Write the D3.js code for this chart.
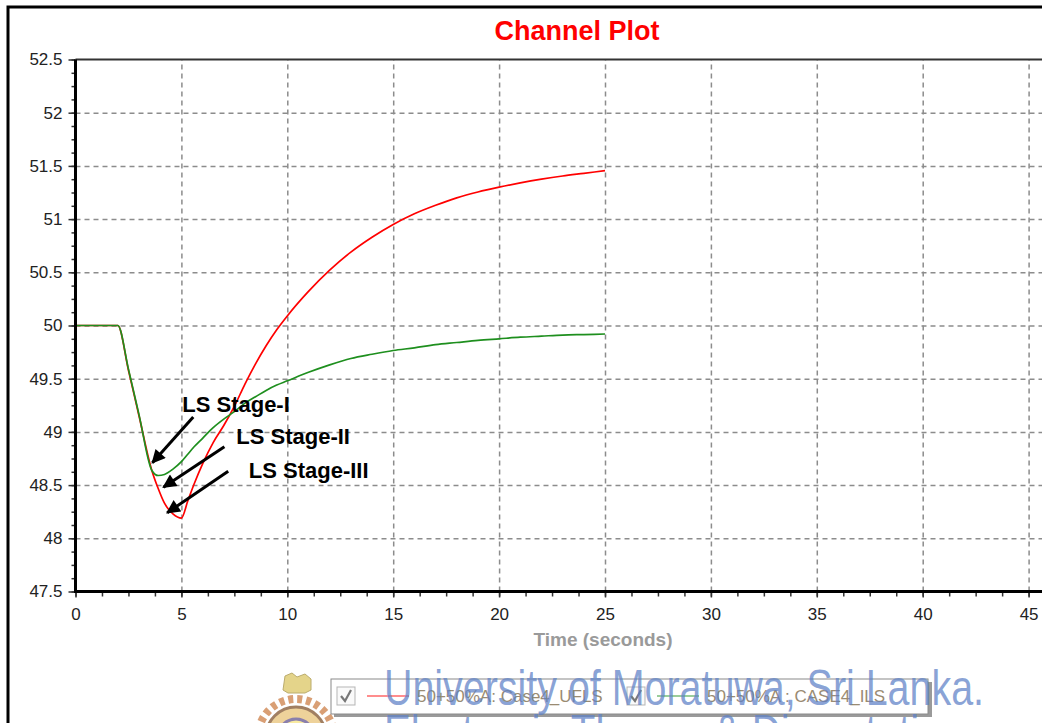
<!DOCTYPE html>
<html lang="en">
<head>
    <meta charset="UTF-8">
    <title>Channel Plot</title>
    <script src="https://cdn.jsdelivr.net/npm/d3@7/dist/d3.min.js"></script>
    <style>
        body { margin: 0; background: #fff; }
        #chart { width: 1042px; height: 723px; }
        text { font-family: "Liberation Sans", Arial, sans-serif; }
    </style>
</head>
<body>
<div id="chart"></div>
<script type="text/javascript">
    // time (s) and the two frequency channels (Hz)
    var time = [0, 2, 2.5, 3, 3.6, 3.9, 4.2, 4.6, 5, 5.3, 5.6, 6, 6.5, 7, 7.5, 8, 8.5, 9, 9.5, 10,
        11, 12, 13, 14, 15, 16, 17, 18, 19, 20, 21, 22, 23, 24, 25];
    var ufls = [50, 50, 49.58, 49.15, 48.64, 48.47, 48.33, 48.23, 48.19, 48.35, 48.51, 48.70, 48.90, 49.06, 49.24, 49.45,
        49.64, 49.81, 49.96, 50.09, 50.32, 50.52, 50.69, 50.83, 50.95, 51.05, 51.13, 51.20, 51.255, 51.30,
        51.34, 51.375, 51.405, 51.43, 51.455];
    var ils = [50, 50, 49.59, 49.16, 48.64, 48.59, 48.60, 48.65, 48.72, 48.79, 48.86, 48.94, 49.04, 49.12, 49.19, 49.27,
        49.33, 49.39, 49.44, 49.48, 49.56, 49.63, 49.69, 49.73, 49.765, 49.79, 49.82, 49.84, 49.86, 49.875,
        49.89, 49.90, 49.91, 49.915, 49.92];

    var xTicks = [0, 5, 10, 15, 20, 25, 30, 35, 40, 45];
    var yTicks = [47.5, 48, 48.5, 49, 49.5, 50, 50.5, 51, 51.5, 52, 52.5];
    var legendNames = ["50+50%A: Case4_UFLS", "50+50%A : CASE4_ILS"];
    var colors = ["#ff0000", "#1e8f1e"];

    // arrows: tail -> tip, in data units
    var notes = [
        {label: "LS Stage-I", lt: 5.04, lv: 49.19, t0: 5.56, v0: 49.14, t1: 3.63, v1: 48.71},
        {label: "LS Stage-II", lt: 7.59, lv: 48.89, t0: 7.03, v0: 48.86, t1: 4.15, v1: 48.48},
        {label: "LS Stage-III", lt: 8.18, lv: 48.57, t0: 7.21, v0: 48.63, t1: 4.33, v1: 48.24}
    ];

    var svgw = 1042, svgh = 723;
    var padL = 75.5, padT = 59.5, padB = 591.5;

    var svg = d3.select("#chart")
        .append('svg')
        .attr('width', svgw)
        .attr('height', svgh);

    var defs = svg.append('defs');
    defs.append('marker')
        .attr('id', 'head')
        .attr('viewBox', '0 0 10 10')
        .attr('refX', 9).attr('refY', 5)
        .attr('markerWidth', 5.5).attr('markerHeight', 4.6)
        .attr('markerUnits', 'strokeWidth')
        .attr('orient', 'auto')
        .append('path')
        .attr('d', 'M0,0 L10,5 L0,10 z')
        .attr('fill', '#000');

    svg.append('rect').attr('width', svgw).attr('height', svgh).attr('fill', '#fff');

    var x_scale = d3.scaleLinear().domain([0, 46]).range([padL, padL + 46 * 21.18]);
    var y_scale = d3.scaleLinear().domain([47.5, 52.5]).range([padB, padT]);

    // outer frame
    svg.append('path')
        .attr('d', 'M8,' + svgh + ' L8,7 L' + svgw + ',7')
        .attr('fill', 'none').attr('stroke', '#000').attr('stroke-width', 3);

    // title
    svg.append('text')
        .attr('x', 577).attr('y', 40)
        .attr('text-anchor', 'middle')
        .attr('font-size', 27).attr('font-weight', 'bold')
        .attr('fill', '#ff0000')
        .text('Channel Plot');

    // grid
    var gx = svg.append('g')
        .attr('transform', 'translate(0,' + padB + ')')
        .call(d3.axisBottom(x_scale).tickValues(xTicks.slice(1)).tickSize(-(padB - padT)).tickFormat(''));
    var gy = svg.append('g')
        .attr('transform', 'translate(' + padL + ',0)')
        .call(d3.axisLeft(y_scale).tickValues(yTicks.slice(1, -1)).tickSize(-(svgw - padL)).tickFormat(''));
    [gx, gy].forEach(function (g) {
        g.select('.domain').remove();
        g.selectAll('line').attr('stroke', '#8c8c8c').attr('stroke-width', 1.5).attr('stroke-dasharray', '5,4');
    });

    // plot top border
    svg.append('line')
        .attr('x1', padL).attr('x2', svgw).attr('y1', padT).attr('y2', padT)
        .attr('stroke', '#333').attr('stroke-width', 2);

    // curves
    var line = d3.line()
        .curve(d3.curveMonotoneX)
        .x(function (d) { return x_scale(d[0]); })
        .y(function (d) { return y_scale(d[1]); });
    [ufls, ils].forEach(function (s, i) {
        svg.append('path')
            .datum(time.map(function (t, j) { return [t, s[j]]; }))
            .attr('d', line)
            .attr('fill', 'none')
            .attr('stroke', colors[i])
            .attr('stroke-width', 1.7);
    });

    // minor ticks
    var minorX = d3.range(0, 46.01, 1.25);
    var minorY = d3.range(47.5, 52.51, 0.125);
    svg.append('g')
        .attr('transform', 'translate(0,' + padB + ')')
        .call(d3.axisBottom(x_scale).tickValues(minorX).tickSize(5).tickFormat(''))
        .call(function (g) { g.select('.domain').remove(); g.selectAll('line').attr('stroke', '#333').attr('stroke-width', 1.5); });
    svg.append('g')
        .attr('transform', 'translate(' + padL + ',0)')
        .call(d3.axisLeft(y_scale).tickValues(minorY).tickSize(4).tickFormat(''))
        .call(function (g) { g.select('.domain').remove(); g.selectAll('line').attr('stroke', '#333').attr('stroke-width', 1.5); });

    // main axes
    var xAxis = svg.append('g')
        .attr('transform', 'translate(0,' + padB + ')')
        .call(d3.axisBottom(x_scale).tickValues(xTicks).tickSize(6).tickPadding(10).tickFormat(d3.format('')));
    var yAxis = svg.append('g')
        .attr('transform', 'translate(' + padL + ',0)')
        .call(d3.axisLeft(y_scale).tickValues(yTicks).tickSize(7).tickPadding(6).tickFormat(d3.format('')));
    [xAxis, yAxis].forEach(function (g) {
        g.selectAll('text').attr('font-size', 17).attr('fill', '#222').attr('font-family', '"Liberation Sans", Arial, sans-serif');
        g.selectAll('line').attr('stroke', '#333').attr('stroke-width', 1.5);
        g.select('.domain').remove();
    });
    svg.append('path')
        .attr('d', 'M' + padL + ',' + padT + ' L' + padL + ',' + padB + ' L' + svgw + ',' + padB)
        .attr('fill', 'none').attr('stroke', '#000').attr('stroke-width', 3);

    svg.append('text')
        .attr('x', 603).attr('y', 646)
        .attr('text-anchor', 'middle')
        .attr('font-size', 19).attr('font-weight', 'bold')
        .attr('fill', '#9a9a9a')
        .text('Time (seconds)');

    // annotations
    var ann = svg.append('g');
    ann.selectAll('line')
        .data(notes)
        .enter()
        .append('line')
        .attr('x1', function (d) { return x_scale(d.t0); })
        .attr('y1', function (d) { return y_scale(d.v0); })
        .attr('x2', function (d) { return x_scale(d.t1); })
        .attr('y2', function (d) { return y_scale(d.v1); })
        .attr('stroke', '#000').attr('stroke-width', 3)
        .attr('marker-end', 'url(#head)');
    ann.selectAll('text')
        .data(notes)
        .enter()
        .append('text')
        .attr('x', function (d) { return x_scale(d.lt); })
        .attr('y', function (d) { return y_scale(d.lv); })
        .attr('font-family', 'Lato, "Open Sans", sans-serif')
        .attr('font-weight', 'bold')
        .attr('font-size', 22)
        .attr('fill', '#000')
        .text(function (d) { return d.label; });

    // crest (faded, partly under the legend)
    var crest = svg.append('g').attr('opacity', 0.7);
    crest.append('circle').attr('cx', 296).attr('cy', 737).attr('r', 38)
        .attr('fill', 'none').attr('stroke', '#c9773c').attr('stroke-width', 8).attr('stroke-dasharray', '5,4');
    crest.append('circle').attr('cx', 296).attr('cy', 737).attr('r', 30)
        .attr('fill', '#e8c070').attr('stroke', '#7a4a20').attr('stroke-width', 3);
    crest.append('circle').attr('cx', 296).attr('cy', 737).attr('r', 18)
        .attr('fill', '#f6e27a').attr('stroke', '#5a4a8a').attr('stroke-width', 3);
    crest.append('path')
        .attr('d', 'M283,690 L285,676 L292,673 L297,677 L305,674 L311,679 L311,690 L305,693 L288,693 Z')
        .attr('fill', '#d9c35a').attr('stroke', '#a08a30').attr('stroke-width', 1);

    // legend
    var lg = svg.append('g');
    lg.append('rect').attr('x', 334).attr('y', 682).attr('width', 598).attr('height', 35).attr('fill', '#9a9a9a');
    lg.append('rect').attr('x', 331).attr('y', 679).attr('width', 597).attr('height', 35)
        .attr('fill', '#fff').attr('stroke', '#8a8a8a').attr('stroke-width', 1);
    var lx = [337, 627];
    legendNames.forEach(function (name, i) {
        var g = lg.append('g').attr('transform', 'translate(' + lx[i] + ',0)');
        g.append('rect').attr('x', 0).attr('y', 687).attr('width', 18).attr('height', 18)
            .attr('fill', '#fafafa').attr('stroke', '#b5b5b5');
        g.append('path').attr('d', 'M4,696 L8,701 L14,690')
            .attr('fill', 'none').attr('stroke', '#777').attr('stroke-width', 2.2);
        g.append('line').attr('x1', 30).attr('x2', 72).attr('y1', 696).attr('y2', 696)
            .attr('stroke', colors[i]).attr('stroke-opacity', 0.6).attr('stroke-width', 1.5);
        g.append('text').attr('x', 80).attr('y', 702)
            .attr('font-size', 17).attr('fill', '#9a8b72')
            .text(name);
    });

    // watermark
    var wm = svg.append('g').attr('fill', '#5d80c6').attr('fill-opacity', 0.72)
        .style('font-family', '"Liberation Serif", "DejaVu Serif", serif');
    wm.append('text').attr('x', 384).attr('y', 705)
        .attr('font-size', 50).attr('textLength', 600).attr('lengthAdjust', 'spacingAndGlyphs')
        .text('University of Moratuwa, Sri Lanka.');
    wm.append('text').attr('x', 384).attr('y', 750)
        .attr('font-size', 50).attr('textLength', 600).attr('lengthAdjust', 'spacingAndGlyphs')
        .text('Electronic Theses & Dissertations');
</script>
</body>
</html>
